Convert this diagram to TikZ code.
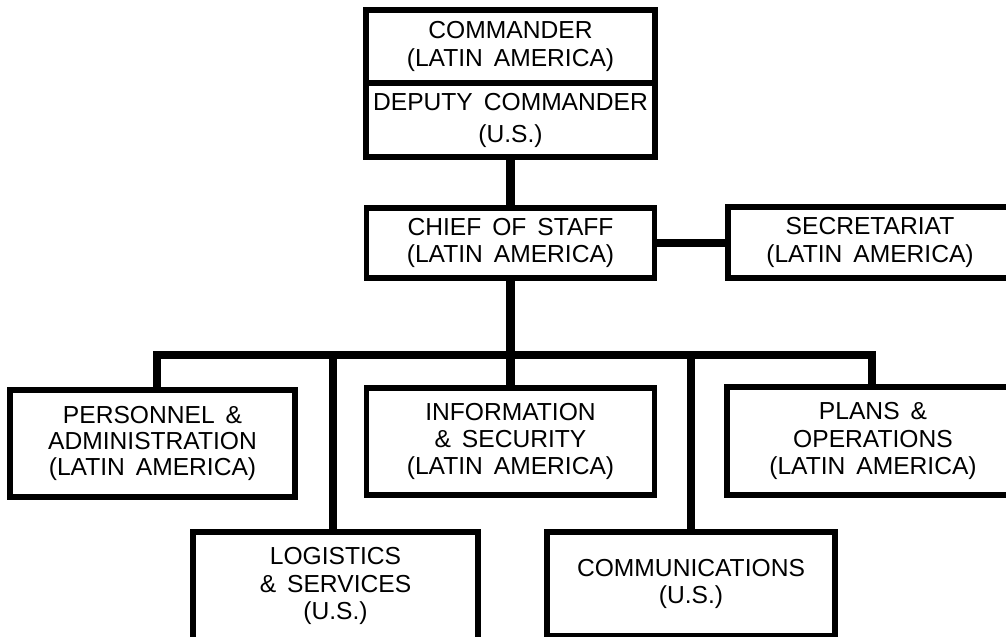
\documentclass[tikz,border=0pt]{standalone}
\usepackage{fontspec}
\setmainfont{Liberation Sans}[WordSpace=1.6]
\usetikzlibrary{calc}

\tikzset{
  unit/.style={draw, line width=4pt, minimum width=7.2cm, align=center, inner sep=2pt,
    font=\fontsize{17.5}{19.5}\selectfont},
  link/.style={line width=6pt},
}

\begin{document}
\begin{tikzpicture}[x=0.025cm, y=-0.025cm]
    \useasboundingbox (0,0) rectangle (1006,637);
    \clip (0,0) rectangle (1006,637);

    % Command
    \node[unit, minimum width=7.225cm, minimum height=1.825cm] (cmdr) at (510.5,46.5) {COMMANDER\\(LATIN AMERICA)};
    \node[unit, minimum width=7.225cm, minimum height=1.85cm] (deputy) at (510.5,120) {DEPUTY COMMANDER\\[3.3pt](U.S.)};

    % Staff
    \node[unit, minimum height=1.75cm] (chief) at (510.5,243) {CHIEF OF STAFF\\(LATIN AMERICA)};
    \node[unit, minimum width=7.1cm, minimum height=1.775cm] (secr) at (870,242.5) {SECRETARIAT\\(LATIN AMERICA)};

    % Sections, upper row
    \node[unit, minimum width=7.125cm, minimum height=2.675cm, font=\fontsize{17.5}{18.3}\selectfont] (pers) at (152.5,443.5) {PERSONNEL \&\\ADMINISTRATION\\(LATIN AMERICA)};
    \node[unit, minimum height=2.675cm] (info) at (510.5,441.5) {INFORMATION\\\& SECURITY\\(LATIN AMERICA)};
    \node[unit, minimum width=7.3cm, minimum height=2.7cm] (plans) at (873,441) {PLANS \&\\OPERATIONS\\(LATIN AMERICA)};

    % Sections, lower row
    \node[unit, minimum width=7.125cm, minimum height=2.7cm] (logi) at (335.5,586) {LOGISTICS\\\& SERVICES\\(U.S.)};
    \node[unit, minimum height=2.6cm] (comm) at (691,584) {COMMUNICATIONS\\(U.S.)};

    % Bus
    \coordinate (busL) at (157,355);
    \coordinate (busLog) at (333,355);
    \coordinate (busComm) at (691,355);
    \coordinate (busR) at (872,355);

    % Links
    \draw[link] (deputy.south) -- (chief.north);
    \draw[link] (chief.east) -- (chief.east -| secr.west);
    \draw[link] (chief.south) -- (chief.south |- info.north);
    \draw[link] (pers.north -| busL) -- (busL) -- (busR) -- (plans.north -| busR);
    \draw[link] (busLog) -- (busLog |- logi.north);
    \draw[link] (busComm) -- (busComm |- comm.north);
\end{tikzpicture}
\end{document}
